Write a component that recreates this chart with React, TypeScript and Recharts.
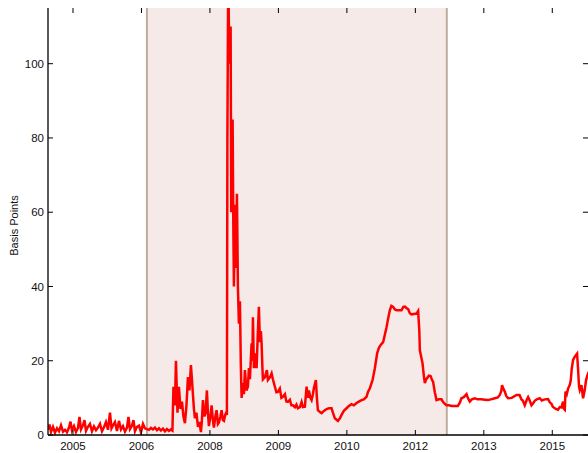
import { LineChart, Line, XAxis, YAxis, ReferenceArea, ReferenceLine } from 'recharts'

// [decimal year, basis points]
const calmPeriod: [number, number][] = [
  [2004.789, 1.5], [2004.82, 2.8], [2004.85, 0.8], [2004.891, 2.2], [2004.932, 0.6], [2004.973, 1.8],
  [2005.014, 1.0], [2005.055, 2.6], [2005.096, 0.9], [2005.136, 1.4], [2005.177, 0.7], [2005.218, 2.0],
  [2005.249, 3.6], [2005.279, 1.2], [2005.32, 2.4], [2005.361, 0.8], [2005.402, 1.9], [2005.433, 4.9],
  [2005.463, 1.5], [2005.504, 2.6], [2005.535, 4.0], [2005.566, 1.1], [2005.606, 2.2], [2005.647, 3.0],
  [2005.688, 1.0], [2005.729, 2.3], [2005.77, 1.3], [2005.811, 2.0], [2005.852, 3.0], [2005.893, 1.0],
  [2005.933, 2.1], [2005.974, 3.5], [2006.015, 1.4], [2006.056, 6.0], [2006.087, 1.8], [2006.117, 2.6],
  [2006.158, 3.5], [2006.199, 1.1], [2006.24, 3.8], [2006.281, 1.5], [2006.322, 2.4], [2006.363, 0.9],
  [2006.404, 2.0], [2006.434, 4.9], [2006.465, 1.6], [2006.506, 2.5], [2006.536, 4.0], [2006.567, 1.0],
  [2006.608, 2.2], [2006.649, 2.5], [2006.69, 0.7], [2006.731, 3.0], [2006.771, 1.8], [2006.812, 1.6],
  [2006.853, 1.4], [2006.894, 1.9], [2006.935, 1.5], [2006.976, 2.0], [2007.017, 1.3], [2007.058, 1.8],
  [2007.098, 1.2], [2007.139, 1.7], [2007.18, 1.0], [2007.221, 1.6], [2007.262, 1.1], [2007.303, 1.5],
  [2007.333, 1.2],
]

const crisisPeriod: [number, number][] = [
  [2007.354, 13], [2007.384, 8], [2007.405, 20], [2007.436, 6], [2007.466, 13], [2007.497, 7],
  [2007.528, 9], [2007.558, 5], [2007.589, 3.2], [2007.62, 8], [2007.65, 15.6], [2007.681, 12],
  [2007.711, 18.8], [2007.732, 15], [2007.752, 11], [2007.773, 7], [2007.793, 4.5], [2007.824, 6],
  [2007.855, 2.2], [2007.885, 3.5], [2007.916, 0.8], [2007.936, 4], [2007.957, 9.4], [2007.987, 5],
  [2008.012, 6], [2008.038, 12], [2008.059, 6], [2008.079, 2.4], [2008.11, 5], [2008.134, 8],
  [2008.161, 4], [2008.181, 2], [2008.212, 5], [2008.236, 6.7], [2008.263, 3], [2008.284, 3.4],
  [2008.314, 5], [2008.339, 6.7], [2008.365, 4], [2008.386, 3.8], [2008.412, 5.4], [2008.433, 6],
  [2008.447, 5.4], [2008.457, 80], [2008.474, 125], [2008.488, 110], [2008.509, 100], [2008.523, 110],
  [2008.535, 60], [2008.549, 80], [2008.564, 85], [2008.576, 60], [2008.59, 40], [2008.605, 55],
  [2008.621, 62], [2008.631, 45], [2008.652, 65], [2008.672, 40], [2008.692, 30], [2008.713, 36],
  [2008.733, 18], [2008.748, 10], [2008.774, 14], [2008.795, 11], [2008.815, 17.5], [2008.846, 12],
  [2008.876, 13], [2008.897, 18], [2008.917, 15], [2008.952, 24.7], [2008.968, 20], [2008.979, 31.7],
  [2008.999, 18], [2009.019, 22], [2009.054, 18], [2009.081, 28], [2009.101, 34.5], [2009.122, 25],
  [2009.142, 28], [2009.156, 24.7], [2009.173, 18], [2009.183, 15], [2009.224, 15.6], [2009.265, 17.5],
  [2009.285, 14.8], [2009.326, 15.5], [2009.361, 16.6], [2009.387, 15], [2009.428, 13], [2009.459, 11.5],
  [2009.49, 11.6], [2009.53, 12.5], [2009.561, 10], [2009.592, 10.3], [2009.633, 11], [2009.663, 9],
  [2009.694, 8.9], [2009.735, 9.5], [2009.765, 8], [2009.796, 8], [2009.837, 7.5], [2009.868, 8.2],
  [2009.898, 7.2], [2009.939, 7.5], [2009.974, 8.9], [2010.0, 7.5], [2010.041, 7.6], [2010.076, 13],
  [2010.103, 10], [2010.123, 12], [2010.154, 10], [2010.178, 9.4], [2010.205, 11], [2010.225, 12.6],
  [2010.266, 14.8], [2010.287, 10], [2010.307, 6.7], [2010.348, 6.2], [2010.383, 5.9], [2010.43, 6.5],
  [2010.485, 7], [2010.532, 7.2], [2010.587, 7.2], [2010.614, 6], [2010.654, 4.5], [2010.716, 3.8],
  [2010.757, 4.5], [2010.791, 5.4], [2010.838, 6.5], [2010.893, 7.2], [2010.94, 7.8], [2010.996, 8.3],
  [2011.043, 8.0], [2011.098, 8.6], [2011.145, 9], [2011.2, 9.4], [2011.247, 9.6], [2011.302, 10.3],
  [2011.329, 11.5], [2011.37, 12.6], [2011.425, 14.8], [2011.472, 18], [2011.519, 22], [2011.553, 23.4],
  [2011.588, 24.2], [2011.641, 25], [2011.676, 27], [2011.711, 29], [2011.738, 31], [2011.778, 33.6],
  [2011.809, 34.8], [2011.846, 34.5], [2011.881, 33.8], [2011.915, 33.6], [2011.962, 33.6], [2012.017, 33.6],
  [2012.054, 34.5], [2012.085, 34.6], [2012.116, 34.2], [2012.152, 33.9], [2012.187, 32.8], [2012.222, 32.5],
  [2012.269, 32.6], [2012.324, 32.7], [2012.357, 33.4], [2012.381, 28], [2012.392, 22.8], [2012.447, 19.3],
  [2012.473, 16], [2012.494, 14], [2012.52, 15], [2012.541, 15.3], [2012.576, 16], [2012.611, 15.9],
  [2012.636, 15], [2012.663, 14.3], [2012.698, 11.5], [2012.733, 9.4], [2012.78, 9.6], [2012.835, 9.6],
  [2012.861, 9.0], [2012.892, 8.5], [2012.937, 8],
]

const afterPeriod: [number, number][] = [
  [2012.984, 8], [2013.045, 7.8], [2013.106, 7.8], [2013.168, 7.8], [2013.209, 8.7], [2013.243, 9.9],
  [2013.29, 10.2], [2013.346, 11], [2013.372, 10], [2013.413, 9], [2013.454, 9.6], [2013.515, 9.9],
  [2013.576, 9.6], [2013.652, 9.6], [2013.72, 9.5], [2013.787, 9.4], [2013.842, 9.6], [2013.924, 9.9],
  [2013.986, 10.1], [2014.026, 10.8], [2014.057, 11.8], [2014.073, 13.4], [2014.098, 12.5], [2014.129, 11.7],
  [2014.159, 10.5], [2014.196, 9.9], [2014.272, 10], [2014.368, 10.8], [2014.429, 10.8], [2014.47, 9.6],
  [2014.497, 9.3], [2014.537, 8], [2014.578, 9.5], [2014.605, 10.2], [2014.64, 9.2], [2014.674, 8],
  [2014.701, 8.4], [2014.742, 9.2], [2014.783, 9.6], [2014.844, 9.9], [2014.885, 9.3], [2014.946, 9.6],
  [2015.014, 9.7], [2015.048, 8.8], [2015.083, 8.4], [2015.11, 7.6], [2015.151, 7.2], [2015.181, 7.0],
  [2015.218, 6.8], [2015.253, 7.5], [2015.288, 7.4], [2015.32, 9], [2015.341, 7], [2015.355, 6.8],
  [2015.37, 11.7], [2015.396, 11], [2015.423, 12.5], [2015.458, 13.5], [2015.478, 14.8], [2015.498, 17.9],
  [2015.525, 20.2], [2015.56, 21.1], [2015.607, 21.9], [2015.628, 17.5], [2015.647, 13], [2015.662, 12.1],
  [2015.696, 13.4], [2015.729, 9.9], [2015.763, 12.1], [2015.79, 14.8], [2015.819, 16.1], [2015.845, 17],
]

const tickYears = [2005.3, 2006.7, 2008.1, 2009.5, 2010.9, 2012.3, 2013.7, 2015.1]
const tickLabels = ['2005', '2006', '2008', '2009', '2010', '2012', '2013', '2015']
const yTicks = [0, 20, 40, 60, 80, 100]
const shadeStart = 2006.812
const shadeEnd = 2012.943

const data = [...calmPeriod, ...crisisPeriod, ...afterPeriod].map(([t, v]) => ({ t, v }))

const W = 588
const H = 453
const M = { top: 8, right: 0, bottom: 0, left: 0 }
const Y_AXIS_W = 48
const X_AXIS_H = 18
const PLOT_W = W - Y_AXIS_W - M.left - M.right
const PLOT_H = H - X_AXIS_H - M.top - M.bottom

const font = '"Liberation Sans", Arial, sans-serif'

// matlab-style box: tick marks point inward on all four sides
const BottomTick = ({ x, y, index }: any) => (
  <g>
    <line x1={x} x2={x} y1={y} y2={y - 5} stroke="#000" />
    <line x1={x} x2={x} y1={y - PLOT_H} y2={y - PLOT_H + 5} stroke="#000" />
    <text x={x} y={y + 7} dy="0.71em" textAnchor="middle" fontSize={11.5} fontFamily={font} fill="#111">
      {tickLabels[index]}
    </text>
  </g>
)
const LeftTick = ({ x, y, payload }: any) => (
  <g>
    <line x1={x} x2={x + 5} y1={y} y2={y} stroke="#000" />
    <line x1={x + PLOT_W} x2={x + PLOT_W - 5} y1={y} y2={y} stroke="#000" />
    <text x={x - 4} y={y} dy="0.355em" textAnchor="end" fontSize={11.5} fontFamily={font} fill="#111">
      {payload.value}
    </text>
  </g>
)

export default function App() {
  return (
    <div style={{ width: W, height: H }}>
      <style>{'body{margin:0}'}</style>
      <LineChart width={W} height={H} data={data} margin={M}>
        <ReferenceArea x1={shadeStart} x2={shadeEnd} fill="#F6EAE8" fillOpacity={1} stroke="none" />
        <ReferenceLine x={shadeStart} stroke="#BFAE9E" strokeWidth={2} />
        <ReferenceLine x={shadeEnd} stroke="#BFAE9E" strokeWidth={2} />
        <XAxis
          xAxisId="top"
          orientation="top"
          dataKey="t"
          type="number"
          domain={[2004.789, 2015.83]}
          allowDataOverflow
          tick={false}
          tickLine={false}
          height={0}
          axisLine={{ stroke: '#000', strokeWidth: 1.2 }}
        />
        <XAxis
          dataKey="t"
          type="number"
          domain={[2004.789, 2015.83]}
          allowDataOverflow
          ticks={tickYears}
          tick={<BottomTick />}
          tickSize={0}
          tickMargin={0}
          tickLine={false}
          height={X_AXIS_H}
          axisLine={{ stroke: '#000', strokeWidth: 1.5 }}
          interval={0}
        />
        <YAxis
          type="number"
          domain={[0, 115]}
          allowDataOverflow
          ticks={yTicks}
          tick={<LeftTick />}
          tickSize={0}
          tickMargin={0}
          tickLine={false}
          width={Y_AXIS_W}
          axisLine={{ stroke: '#000', strokeWidth: 1.3 }}
          interval={0}
          label={{
            content: ({ viewBox }: any) => {
              const cx = viewBox.x + 14
              const cy = viewBox.y + viewBox.height / 2 + 4
              return (
                <text
                  x={cx}
                  y={cy}
                  transform={`rotate(-90 ${cx} ${cy})`}
                  textAnchor="middle"
                  dominantBaseline="central"
                  fontSize={11}
                  fontFamily={font}
                  fill="#111"
                >
                  Basis Points
                </text>
              )
            },
          }}
        />
        <Line
          type="linear"
          dataKey="v"
          stroke="#FF0000"
          strokeWidth={2.5}
          dot={false}
          isAnimationActive={false}
        />
      </LineChart>
    </div>
  )
}
